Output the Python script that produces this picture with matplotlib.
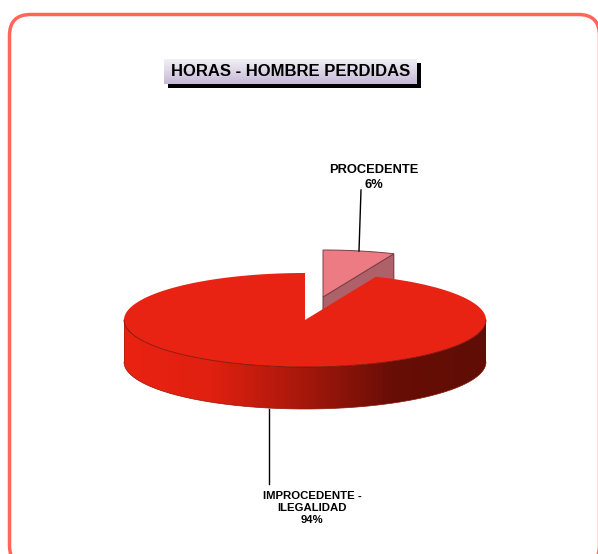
import numpy as np
import matplotlib
matplotlib.use('Agg')
import matplotlib.pyplot as plt
from matplotlib.colors import LinearSegmentedColormap
from matplotlib.patches import FancyBboxPatch, Polygon, Rectangle

title = 'HORAS - HOMBRE PERDIDAS'
categories = ['PROCEDENTE', 'IMPROCEDENTE -\nILEGALIDAD']
shares = [6.4, 93.6]
pct_labels = ['6%', '94%']

plt.rcParams['font.family'] = ['Liberation Sans', 'DejaVu Sans']

fig = plt.figure(figsize=(5.98, 5.54), dpi=100)
ax = fig.add_axes([0, 0, 1, 1])
ax.set_xlim(0, 598)
ax.set_ylim(554, 0)
ax.axis('off')

# page frame, runs off the right and bottom of the picture
ax.add_patch(FancyBboxPatch((9.5, 14.5), 590, 552, boxstyle='round,pad=0,rounding_size=21',
                            fc='white', ec='#FF6659', lw=2.5, clip_on=True))

# title box with shadow
ax.add_patch(Rectangle((168, 63), 253, 25, fc='black', ec='none', zorder=2))
title_cmap = LinearSegmentedColormap.from_list('t', ['#F1EFF4', '#DCD5E6', '#C6B8D8'])
ax.imshow(np.linspace(0, 1, 32).reshape(-1, 1), extent=(164, 417, 84, 59), cmap=title_cmap,
          aspect='auto', zorder=3)
ax.set_xlim(0, 598)
ax.set_ylim(554, 0)
ax.text(291, 72, title, fontsize=11.95, fontweight='bold', ha='center', va='center', zorder=4)

# pie geometry
cx, cy = 305, 320
rx, ry = 181, 47
depth = 42
dx, dy = 18, -23
sweeps = np.array(shares) / sum(shares) * 2 * np.pi
small_end = np.pi / 2 - sweeps[0]


def arc(a0, a1, x0=cx, y0=cy, n=200):
    t = np.linspace(a0, a1, n)
    return np.column_stack([x0 + rx * np.cos(t), y0 - ry * np.sin(t)])


# exploded slice
px, py = cx + dx, cy + dy
small_arc = arc(np.pi / 2, small_end, px, py, 40)
right_pt = small_arc[-1]
ax.add_patch(Polygon([(px, py), right_pt, right_pt + [0, depth], (px, py + depth)],
                     fc='#AE6169', ec='#6B3338', lw=0.7, zorder=5))
ax.add_patch(Polygon(np.vstack([[(px, py)], small_arc]), fc='#EC7B83', ec='#7A4046', lw=0.7, zorder=6))

# big slice side wall, gradient clipped to the front of the ellipse
side_cmap = LinearSegmentedColormap.from_list(
    's', [(0, '#EA2212'), (0.24, '#E02010'), (0.48, '#AA180C'), (0.74, '#680E06'), (1, '#5F0D05')])
front = arc(np.pi, 2 * np.pi)
side = Polygon(np.vstack([front, front[::-1] + [0, depth]]), fc='none', ec='none', zorder=7)
ax.add_patch(side)
grad = ax.imshow(np.linspace(0, 1, 256).reshape(1, -1), extent=(cx - rx, cx + rx, cy + depth + ry, cy),
                 cmap=side_cmap, aspect='auto', zorder=7)
grad.set_clip_path(side)
ax.set_xlim(0, 598)
ax.set_ylim(554, 0)
ax.plot(*(front + [0, depth]).T, color='#8A1A0E', lw=0.5, zorder=8)
ax.plot([cx - rx, cx - rx], [cy, cy + depth], color='#9A2010', lw=0.4, zorder=8)

# big slice top
big_arc = arc(small_end, np.pi / 2 - 2 * np.pi, n=400)
ax.add_patch(Polygon(np.vstack([[(cx, cy)], big_arc]), fc='#E92313', ec='none', zorder=9))
ax.plot(*arc(np.pi, 2 * np.pi).T, color='#7A1208', lw=0.6, zorder=10)

# leader lines and labels
ax.plot([361, 359], [190, 251], color='black', lw=1.0, zorder=11)
ax.plot([269, 269], [409, 484], color='black', lw=1.0, zorder=11)
ax.text(373.5, 177.5, categories[0] + '\n' + pct_labels[0], fontsize=9.3, fontweight='bold',
        ha='center', va='center', linespacing=1.24, zorder=12)
ax.text(312, 508, categories[1] + '\n' + pct_labels[1], fontsize=8.2, fontweight='bold',
        ha='center', va='center', linespacing=1.22, zorder=12)

fig.savefig('out.png', dpi=100)
